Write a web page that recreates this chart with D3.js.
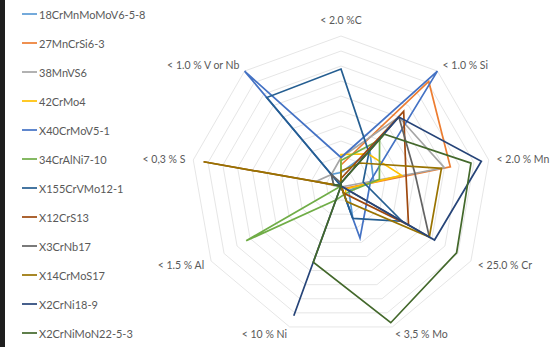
<!DOCTYPE html>
<html><head><meta charset="utf-8">
<script src="https://cdn.jsdelivr.net/npm/d3@7"></script>
<style>html,body{margin:0;padding:0;background:#fff;}svg{display:block;}</style>
</head><body>
<svg id="chart" width="553" height="347"></svg>
<script>
const axes = ["< 2.0 %C", "< 1.0 % Si", "< 2.0 % Mn", "< 25.0 % Cr", "< 3,5 % Mo", "< 10 % Ni", "< 1.5 % Al", "< 0,3 % S", "< 1.0 % V or Nb"];
const seriesNames = ["18CrMnMoMoV6-5-8","27MnCrSi6-3","38MnVS6","42CrMo4","X40CrMoV5-1","34CrAlNi7-10","X155CrVMo12-1","X12CrS13","X3CrNb17","X14CrMoS17","X2CrNi18-9","X2CrNiMoN22-5-3"];
const seriesColors = ["#5B9BD5","#ED7D31","#A5A5A5","#FFC000","#4472C4","#70AD47","#255E91","#9E480E","#636363","#997300","#264478","#43682B"];
// values as fraction of axis maximum: C, Si, Mn, Cr, Mo, Ni, Al, S, V/Nb
const s18CrMnMoMoV = [0.09, 0.30, 0.22, 0.06, 0.23, 0.00, 0.00, 0.05, 0.10];
const s27MnCrSi   = [0.14, 0.91, 0.74, 0.03, 0.00, 0.00, 0.00, 0.05, 0.00];
const s38MnVS6    = [0.19, 0.60, 0.70, 0.01, 0.01, 0.00, 0.01, 0.17, 0.10];
const s42CrMo4    = [0.21, 0.28, 0.41, 0.04, 0.07, 0.00, 0.00, 0.10, 0.00];
const sX40CrMoV   = [0.19, 1.00, 0.20, 0.20, 0.37, 0.00, 0.00, 0.00, 1.00];
const s34CrAlNi   = [0.17, 0.40, 0.26, 0.07, 0.06, 0.10, 0.73, 0.00, 0.00];
const sX155CrVMo  = [0.78, 0.29, 0.15, 0.47, 0.23, 0.00, 0.00, 0.00, 0.77];
const sX12CrS13   = [0.05, 0.65, 0.44, 0.52, 0.05, 0.00, 0.00, 0.93, 0.00];
const sX3CrNb17   = [0.02, 0.60, 0.50, 0.68, 0.00, 0.00, 0.00, 0.05, 0.10];
const sX14CrMoS17 = [0.10, 0.20, 0.68, 0.68, 0.11, 0.00, 0.00, 0.93, 0.00];
const sX2CrNi189  = [0.02, 0.60, 0.95, 0.72, 0.00, 0.92, 0.00, 0.05, 0.00];
const sX2CrNiMoN  = [0.02, 0.45, 0.88, 0.89, 0.97, 0.54, 0.00, 0.05, 0.00];
const seriesValues = [s18CrMnMoMoV, s27MnCrSi, s38MnVS6, s42CrMo4, sX40CrMoV, s34CrAlNi, sX155CrVMo, sX12CrS13, sX3CrNb17, sX14CrMoS17, sX2CrNi189, sX2CrNiMoN];
const gridLevels = [0.1,0.2,0.3,0.4,0.5,0.6,0.7,0.8,0.9,1.0];

const svg = d3.select("#chart");
svg.append("rect").attr("x",0).attr("y",0).attr("width",553).attr("height",347).attr("fill","#fff");
svg.append("rect").attr("x",0).attr("y",0).attr("width",5).attr("height",347).attr("fill","#1e1e1e");

const cx = 341, cy = 186, R = 150;
const r = d3.scaleLinear().domain([0,1]).range([0,R]);
const ang = d3.scaleLinear().domain([0, axes.length]).range([0, 2*Math.PI]);
const g = svg.append("g").attr("transform",`translate(${cx},${cy})`);

const radial = d3.lineRadial().angle((d,i)=>ang(i)).radius(d=>r(d)).curve(d3.curveLinearClosed);

// grid rings
g.selectAll(".ring").data(gridLevels).join("path")
  .attr("d", lv => radial(axes.map(()=>lv)))
  .attr("fill","none").attr("stroke","#e6e6e6").attr("stroke-width",1);

// axis labels
g.selectAll(".lab").data(axes).join("text")
  .attr("x",(d,i)=>(R+8)*Math.sin(ang(i)))
  .attr("y",(d,i)=>-(R+8)*Math.cos(ang(i)) + (i===0 ? -8 : 0))
  .attr("text-anchor",(d,i)=>{const s=Math.sin(ang(i)); return s>0.1?"start":(s<-0.1?"end":"middle");})
  .attr("dominant-baseline","central")
  .attr("font-family","Lato, 'Open Sans', sans-serif").attr("font-size",10.5).attr("fill","#595959")
  .text(d=>d);

// series
g.selectAll(".series").data(seriesValues).join("path")
  .attr("d", d=>radial(d))
  .attr("fill","none")
  .attr("stroke",(d,i)=>seriesColors[i])
  .attr("stroke-width",1.7)
  .attr("stroke-linejoin","miter");

// legend
const leg = svg.append("g");
const ly = d3.scaleLinear().domain([0,1]).range([14, 43]);
const items = leg.selectAll("g").data(seriesNames).join("g")
  .attr("transform",(d,i)=>`translate(0,${ly(i)})`);
items.append("line").attr("x1",22).attr("x2",37).attr("y1",0).attr("y2",0)
  .attr("stroke",(d,i)=>seriesColors[i]).attr("stroke-width",1.7);
items.append("text").attr("x",39).attr("y",0).attr("dominant-baseline","central")
  .attr("font-family","Lato, 'Open Sans', sans-serif").attr("font-size",11).attr("fill","#595959")
  .text(d=>d);
</script>
</body></html>
